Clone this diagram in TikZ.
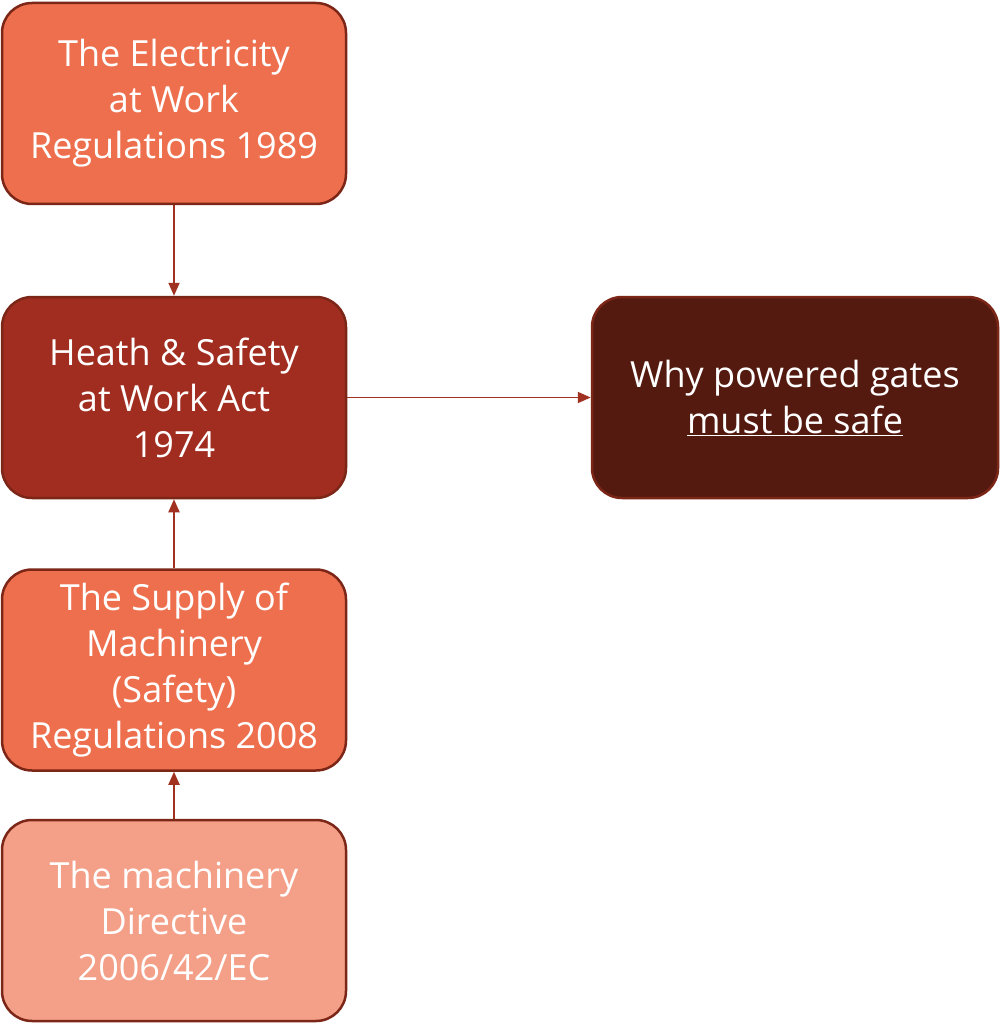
\documentclass[tikz,border=0pt]{standalone}
\usepackage{fontspec}
\setmainfont{Open Sans}
\usetikzlibrary{arrows.meta}
\definecolor{edgec}{HTML}{7B2617}
\definecolor{arrc}{HTML}{A0301F}
\definecolor{fillA}{HTML}{EE6F4D}
\definecolor{fillB}{HTML}{A12C20}
\definecolor{fillC}{HTML}{F4A088}
\definecolor{fillD}{HTML}{541A10}
\tikzset{
  box/.style={draw=edgec, line width=2.5pt, rounded corners=30pt, text=white, align=center,
    minimum width=344pt, minimum height=201pt, inner sep=0pt,
    font=\fontsize{36}{46}\selectfont},
  conn/.style={draw=arrc, line width=1.8pt, -{Triangle[length=13pt,width=11pt]}}
}
\begin{document}
\begin{tikzpicture}[x=1pt,y=-1pt]
\useasboundingbox (0,0) rectangle (1000,1024);
\node[box, fill=fillA] (ewr) at (174,103.5) {The Electricity\\at Work\\Regulations 1989};
\node[box, fill=fillB] (hsw) at (174,397.5) {Heath \& Safety\\at Work Act\\1974};
\node[box, fill=fillA] (smr) at (174,670) {The Supply of\\Machinery\\(Safety)\\Regulations 2008};
\node[box, fill=fillC] (md) at (174,920.5) {The machinery\\Directive\\2006/42/EC};
\node[box, fill=fillD, minimum width=406pt] (why) at (795,397.5) {Why powered gates\\\underline{must be safe}};
\draw[conn] (ewr) -- (hsw);
\draw[conn] (hsw) -- (why);
\draw[conn] (smr) -- (hsw);
\draw[conn] (md) -- (smr);
\end{tikzpicture}
\end{document}
